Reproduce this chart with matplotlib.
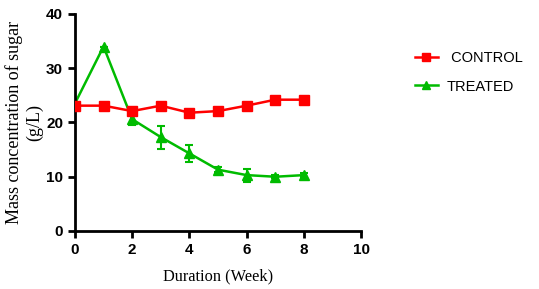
import numpy as np
import matplotlib.pyplot as plt
from matplotlib.lines import Line2D

weeks = [0, 1, 2, 3, 4, 5, 6, 7, 8]
control = [23.1, 23.1, 22.1, 23.1, 21.8, 22.1, 23.1, 24.2, 24.2]
control_err = [0.2, 0.2, 0.2, 0.2, 0.2, 0.2, 0.2, 0.2, 0.2]
treated = [23.5, 34.0, 20.6, 17.3, 14.3, 11.3, 10.3, 10.0, 10.3]
treated_err = [0.0, 0.0, 1.0, 2.1, 1.5, 0.5, 1.2, 0.3, 0.4]
labels = [" CONTROL", "TREATED"]

RED = "#ff0000"
GREEN = "#00bb00"

fig = plt.figure(figsize=(5.39, 2.89), dpi=100)
ax = fig.add_axes([0.139, 0.2007, 0.531, 0.751])

ax.errorbar(weeks, control, yerr=control_err, color=RED, marker="s", markersize=7,
            linewidth=1.8, capsize=3, elinewidth=1.5, capthick=1.5, zorder=3)
ax.errorbar(weeks, treated, yerr=treated_err, color=GREEN, marker="^", markersize=7,
            linewidth=1.8, capsize=3, elinewidth=1.5, capthick=1.5, zorder=2)

ax.set_xlim(0, 10)
ax.set_ylim(0, 40)
ax.set_xticks(np.arange(0, 11, 2))
ax.set_yticks(np.arange(0, 41, 10))
for side in ("top", "right"):
    ax.spines[side].set_visible(False)
for side in ("left", "bottom"):
    ax.spines[side].set_linewidth(2)
ax.tick_params(direction="out", width=2, length=5)
for lbl in ax.get_xticklabels() + ax.get_yticklabels():
    lbl.set_fontfamily("Liberation Sans")
    lbl.set_fontweight("bold")
    lbl.set_fontsize(11)

ax.set_xlabel("Duration (Week)", fontfamily="Liberation Serif", fontsize=11.8, labelpad=8)
ax.set_ylabel("Mass concentration of sugar\n(g/L)", fontfamily="Liberation Serif",
              fontsize=13, linespacing=1.25)
ax.yaxis.set_label_coords(-0.11, 0.5)

# legend handles without the error bar caps, as in the original
handles = [
    Line2D([], [], color=RED, marker="s", markersize=6, linewidth=1.8),
    Line2D([], [], color=GREEN, marker="^", markersize=6, linewidth=1.8),
]
ax.legend(handles, labels, loc="upper left", bbox_to_anchor=(1.141, 0.89),
          frameon=False, prop={"family": "Liberation Sans", "size": 10.5},
          handlelength=1.6, handletextpad=0.6, labelspacing=1.0)

fig.savefig("out.png", dpi=100)
